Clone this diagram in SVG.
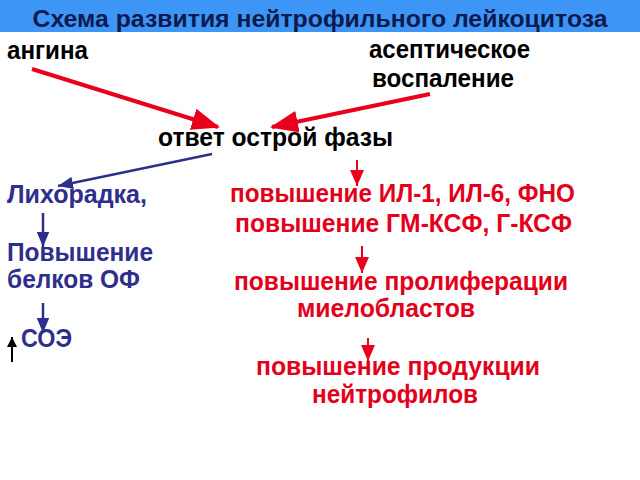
<svg xmlns="http://www.w3.org/2000/svg" width="640" height="480" viewBox="0 0 640 480">
<style>
text{font-family:"Liberation Sans",Arial,sans-serif;font-weight:bold;}
.t{font-size:23px;fill:#0d1a4d;}
.k{font-size:25px;fill:#000;}
.b{font-size:25px;fill:#2e2e8c;}
.r{font-size:25px;fill:#e3001b;}
.rl{stroke:#e8001c;fill:none;}
.bl{stroke:#2e2e8c;fill:none;}
</style>
<defs>
<marker id="ahR" markerWidth="7" markerHeight="5.5" refX="6.5" refY="2.75" orient="auto" markerUnits="strokeWidth"><path d="M0,0L7,2.75L0,5.5z" fill="#e8001c"/></marker>
<marker id="ahRs" markerWidth="8" markerHeight="7" refX="8" refY="3.5" orient="auto" markerUnits="strokeWidth"><path d="M0,0L8,3.5L0,7z" fill="#e8001c"/></marker>
<marker id="ahB" markerWidth="6" markerHeight="5" refX="6" refY="2.5" orient="auto" markerUnits="strokeWidth"><path d="M0,0L6,2.5L0,5z" fill="#2e2e8c"/></marker>
<marker id="ahK" markerWidth="5" markerHeight="5" refX="5" refY="2.5" orient="auto" markerUnits="strokeWidth"><path d="M0,0L5,2.5L0,5z" fill="#000"/></marker>
</defs>
<rect x="0" y="0" width="640" height="32" fill="#3d95f5"/>
<g id="title"><text class="t" x="320" y="27" text-anchor="middle" textLength="575" lengthAdjust="spacingAndGlyphs">Схема развития нейтрофильного лейкоцитоза</text></g>
<g id="angina"><text class="k" x="7" y="59" textLength="81" lengthAdjust="spacingAndGlyphs">ангина</text></g>
<g id="aseptic"><text class="k" x="369" y="58" textLength="161" lengthAdjust="spacingAndGlyphs">асептическое</text><text class="k" x="372" y="87" textLength="142" lengthAdjust="spacingAndGlyphs">воспаление</text></g>
<g id="acute"><text class="k" x="158" y="146" textLength="235" lengthAdjust="spacingAndGlyphs">ответ острой фазы</text></g>
<g id="fever"><text class="b" x="7" y="203" textLength="140" lengthAdjust="spacingAndGlyphs">Лихорадка,</text></g>
<g id="proteins"><text class="b" x="7" y="261" textLength="146" lengthAdjust="spacingAndGlyphs">Повышение</text><text class="b" x="7" y="288" textLength="133" lengthAdjust="spacingAndGlyphs">белков ОФ</text></g>
<g id="soe"><text class="b" x="21" y="347" textLength="51" lengthAdjust="spacingAndGlyphs">СОЭ</text></g>
<g id="il"><text class="r" x="230" y="202" textLength="345" lengthAdjust="spacingAndGlyphs">повышение ИЛ-1, ИЛ-6, ФНО</text><text class="r" x="235" y="232" textLength="337" lengthAdjust="spacingAndGlyphs">повышение ГМ-КСФ, Г-КСФ</text></g>
<g id="prolif"><text class="r" x="234" y="290" textLength="334" lengthAdjust="spacingAndGlyphs">повышение пролиферации</text><text class="r" x="297" y="317" textLength="178" lengthAdjust="spacingAndGlyphs">миелобластов</text></g>
<g id="prod"><text class="r" x="256" y="375" textLength="284" lengthAdjust="spacingAndGlyphs">повышение продукции</text><text class="r" x="312" y="403" textLength="166" lengthAdjust="spacingAndGlyphs">нейтрофилов</text></g>
<g id="connectors">
<line class="rl" x1="32" y1="69" x2="218" y2="127" stroke-width="4" marker-end="url(#ahR)"/>
<line class="rl" x1="430" y1="94" x2="272" y2="127" stroke-width="4" marker-end="url(#ahR)"/>
<line class="bl" x1="212" y1="154" x2="58" y2="186" stroke-width="2.5" marker-end="url(#ahB)"/>
<line class="bl" x1="43" y1="213" x2="43" y2="247" stroke-width="2.5" marker-end="url(#ahB)"/>
<line class="bl" x1="43" y1="303" x2="43" y2="333" stroke-width="2.5" marker-end="url(#ahB)"/>
<line x1="12" y1="362" x2="12" y2="337" stroke="#000" stroke-width="2" marker-end="url(#ahK)"/>
<line class="rl" x1="357" y1="160" x2="357" y2="186" stroke-width="2" marker-end="url(#ahRs)"/>
<line class="rl" x1="362" y1="246" x2="362" y2="273" stroke-width="2" marker-end="url(#ahRs)"/>
<line class="rl" x1="368" y1="338" x2="368" y2="361" stroke-width="2" marker-end="url(#ahRs)"/>
</g>
</svg>
